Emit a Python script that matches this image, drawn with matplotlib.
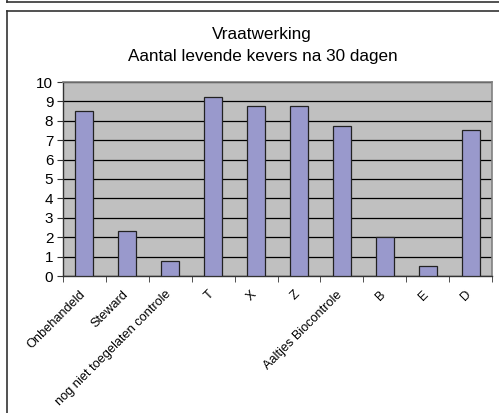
import matplotlib
matplotlib.use("Agg")
import matplotlib.pyplot as plt
from matplotlib.lines import Line2D
import matplotlib.transforms as mtrans
import numpy as np

categories = ["Onbehandeld", "Steward", "nog niet toegelaten controle", "T", "X", "Z",
              "Aaltjes Biocontrole", "B", "E", "D"]
values = [8.5, 2.3, 0.75, 9.25, 8.75, 8.75, 7.75, 2.0, 0.5, 7.5]
title_lines = ["Vraatwerking", "Aantal levende kevers na 30 dagen"]
yticks = list(range(0, 11))

plt.rcParams['font.family'] = ['Liberation Sans', 'DejaVu Sans']

W, H = 499, 413
fig = plt.figure(figsize=(W / 100, H / 100), dpi=100)
fig.patch.set_facecolor("white")

def px(x, y):
    return x / W, 1 - y / H

# frame lines (chart area borders)
lc = "#333333"
for (x0, y0, x1, y1) in [(7, 2, 499, 2), (7, 0, 7, 2), (7, 11, 499, 11), (7, 11, 7, 413)]:
    a, b = px(x0, y0)
    c, d = px(x1, y1)
    fig.add_artist(Line2D([a, c], [b, d], color=lc, lw=1.2, transform=fig.transFigure))

left, right, top, bottom = 63, 492, 82, 276
ax = fig.add_axes([left / W, 1 - bottom / H, (right - left) / W, (bottom - top) / H])
ax.set_facecolor("#C0C0C0")

x = np.arange(len(categories))
ax.bar(x, values, width=0.42, color="#9999CC", edgecolor="#222222", linewidth=0.9, zorder=3)

ax.set_xlim(-0.5, len(categories) - 0.5)
ax.set_ylim(0, 10)
ax.set_yticks(yticks)
ax.set_yticklabels([str(v) for v in yticks], fontsize=11)
ax.yaxis.grid(True, color="black", linewidth=0.9, zorder=1)
ax.set_axisbelow(True)

ax.set_xticks(x)
ax.set_xticklabels(categories, rotation=45, ha="right", rotation_mode="anchor", fontsize=9.2)
ax.tick_params(axis="x", which="major", length=0, pad=9)
ax.set_xticks(np.arange(-0.5, len(categories)), minor=True)
ax.tick_params(axis="x", which="minor", length=4, direction="out", color="#333333")
ax.tick_params(axis="y", length=4, direction="out", color="#333333", pad=3)

shift = mtrans.ScaledTranslation(-5.5 / 100, 0, fig.dpi_scale_trans)
for lab in ax.get_xticklabels():
    lab.set_transform(lab.get_transform() + shift)

for s in ["top", "right"]:
    ax.spines[s].set_color("#808080")
    ax.spines[s].set_linewidth(1.2)
for s in ["left", "bottom"]:
    ax.spines[s].set_color("#333333")
    ax.spines[s].set_linewidth(1.0)

tx, ty = px(262, 34)
fig.text(tx, ty, title_lines[0], ha="center", va="center", fontsize=12.3)
tx, ty = px(263, 56)
fig.text(tx, ty, title_lines[1], ha="center", va="center", fontsize=12.3)

fig.savefig("out.png", dpi=100)
